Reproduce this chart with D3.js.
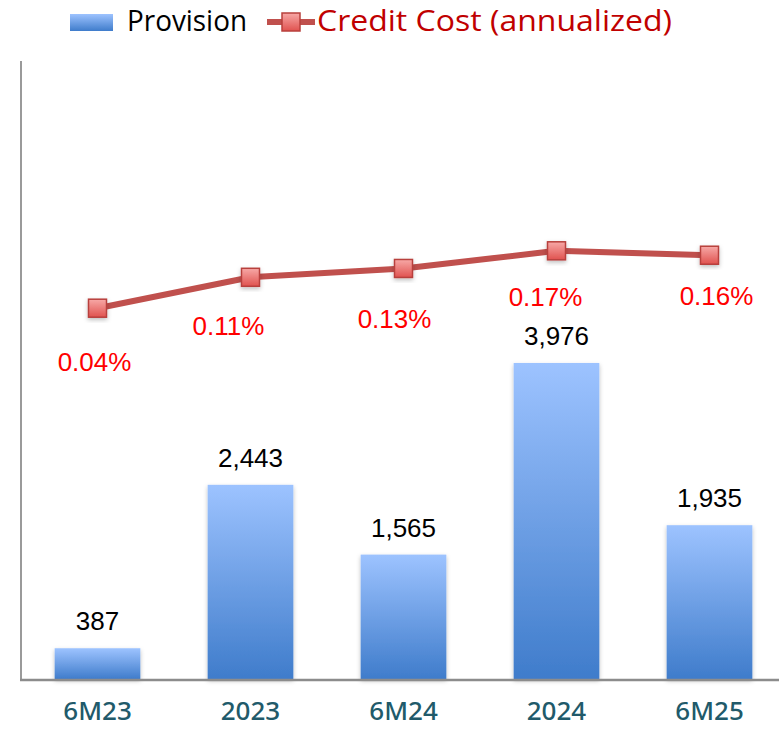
<!DOCTYPE html>
<html>
<head>
<meta charset="utf-8">
<script src="https://cdn.jsdelivr.net/npm/d3@7"></script>
<style>
  html, body { margin: 0; padding: 0; background: #fff; }
  svg { display: block; }
</style>
</head>
<body>
<div id="chart"></div>
<script>
// data
var categories = ["6M23", "2023", "6M24", "2024", "6M25"];
var provision = [387, 2443, 1565, 3976, 1935];
var creditCost = [0.0004, 0.0011, 0.0013, 0.0017, 0.0016];
// where each % label sits relative to its marker
var pctLabelDx = [-3, -22, -9, -11, 7];
var pctLabelDy = [54, 49, 51, 46, 41];

var width = 779, height = 729;
var plot = {left: 21, top: 61, bottom: 679, right: 786};

var svg = d3.select("#chart").append("svg")
    .attr("width", width)
    .attr("height", height);

var defs = svg.append("defs");

var barGrad = defs.append("linearGradient")
    .attr("id", "barGrad").attr("x1", 0).attr("y1", 0).attr("x2", 0).attr("y2", 1);
barGrad.append("stop").attr("offset", "0%").attr("stop-color", "#9dc3ff");
barGrad.append("stop").attr("offset", "100%").attr("stop-color", "#3f7ccb");

var mkGrad = defs.append("linearGradient")
    .attr("id", "mkGrad").attr("x1", 0).attr("y1", 0).attr("x2", 0).attr("y2", 1);
mkGrad.append("stop").attr("offset", "0%").attr("stop-color", "#f7a9a7");
mkGrad.append("stop").attr("offset", "100%").attr("stop-color", "#e0524f");

var shadow = defs.append("filter").attr("id", "shadow")
    .attr("x", "-30%").attr("y", "-30%").attr("width", "160%").attr("height", "160%");
shadow.append("feDropShadow")
    .attr("dx", 0).attr("dy", 2).attr("stdDeviation", 2)
    .attr("flood-color", "#000").attr("flood-opacity", 0.25);

var x = d3.scaleBand()
    .domain(categories)
    .range([plot.left, plot.right])
    .paddingInner(0.44)
    .paddingOuter(0.22);

var y = d3.scaleLinear().domain([0, 7775]).range([plot.bottom, plot.top]);
var y2 = d3.scaleLinear().domain([-0.008, 0.006]).range([plot.bottom, plot.top]);

// bars
svg.append("g").selectAll("rect")
  .data(provision)
  .enter().append("rect")
    .attr("x", function(d, i) { return x(categories[i]); })
    .attr("y", function(d) { return y(d); })
    .attr("width", x.bandwidth())
    .attr("height", function(d) { return y(0) - y(d); })
    .attr("fill", "url(#barGrad)")
    .attr("filter", "url(#shadow)");

// axes lines
svg.append("line")
    .attr("x1", plot.left).attr("x2", plot.left)
    .attr("y1", plot.top).attr("y2", plot.bottom)
    .attr("stroke", "#9a9a9a").attr("stroke-width", 2);
svg.append("line")
    .attr("x1", plot.left - 1).attr("x2", width)
    .attr("y1", plot.bottom + 1).attr("y2", plot.bottom + 1)
    .attr("stroke", "#8c8c8c").attr("stroke-width", 2.5);

// bar value labels
svg.append("g").selectAll("text")
  .data(provision)
  .enter().append("text")
    .attr("x", function(d, i) { return x(categories[i]) + x.bandwidth() / 2; })
    .attr("y", function(d) { return y(d) - 18; })
    .attr("text-anchor", "middle")
    .style("font-family", "Liberation Sans, Arial, sans-serif")
    .style("font-size", "26px")
    .style("fill", "#000")
    .text(function(d) { return d3.format(",")(d); });

// x axis labels
var xAxis = svg.append("g")
    .attr("transform", "translate(0," + (plot.bottom + 1) + ")")
    .call(d3.axisBottom(x).tickSize(0).tickPadding(22));
xAxis.select(".domain").remove();
xAxis.selectAll("text")
    .style("font-family", "Noto Sans, Open Sans, sans-serif")
    .style("font-size", "26px")
    .style("font-weight", 500)
    .style("fill", "#215a6a");

// credit cost line
var cx = function(i) { return x(categories[i]) + x.bandwidth() / 2; };
var line = d3.line()
    .x(function(d, i) { return cx(i); })
    .y(function(d) { return y2(d); });

svg.append("path")
    .datum(creditCost)
    .attr("d", line)
    .attr("fill", "none")
    .attr("stroke", "#c0504d")
    .attr("stroke-width", 6)
    .attr("stroke-linejoin", "round");

svg.append("g").selectAll("rect")
  .data(creditCost)
  .enter().append("rect")
    .attr("x", function(d, i) { return cx(i) - 9; })
    .attr("y", function(d) { return y2(d) - 9; })
    .attr("width", 18).attr("height", 18)
    .attr("fill", "url(#mkGrad)")
    .attr("stroke", "#b8403d")
    .attr("stroke-width", 1.5)
    .attr("filter", "url(#shadow)");

svg.append("g").selectAll("text")
  .data(creditCost)
  .enter().append("text")
    .attr("x", function(d, i) { return cx(i) + pctLabelDx[i]; })
    .attr("y", function(d, i) { return y2(d) + pctLabelDy[i] + 9; })
    .attr("text-anchor", "middle")
    .style("font-family", "Liberation Sans, Arial, sans-serif")
    .style("font-size", "26px")
    .style("fill", "#ff0000")
    .text(function(d) { return d3.format(".2%")(d); });

// legend
var legend = svg.append("g");
legend.append("rect")
    .attr("x", 70).attr("y", 14).attr("width", 43).attr("height", 17)
    .attr("fill", "url(#barGrad)");
legend.append("text")
    .attr("x", 127).attr("y", 31)
    .attr("textLength", 120).attr("lengthAdjust", "spacingAndGlyphs")
    .style("font-family", "Open Sans, sans-serif")
    .style("font-size", "29px")
    .style("fill", "#000")
    .text("Provision");
legend.append("line")
    .attr("x1", 267).attr("x2", 315).attr("y1", 22).attr("y2", 22)
    .attr("stroke", "#c0504d").attr("stroke-width", 6);
legend.append("rect")
    .attr("x", 282).attr("y", 13).attr("width", 18).attr("height", 18)
    .attr("fill", "url(#mkGrad)")
    .attr("stroke", "#b8403d").attr("stroke-width", 1.5);
legend.append("text")
    .attr("x", 317).attr("y", 31)
    .attr("textLength", 355).attr("lengthAdjust", "spacingAndGlyphs")
    .style("font-family", "Open Sans, sans-serif")
    .style("font-size", "29px")
    .style("fill", "#c00000")
    .text("Credit Cost (annualized)");
</script>
</body>
</html>
